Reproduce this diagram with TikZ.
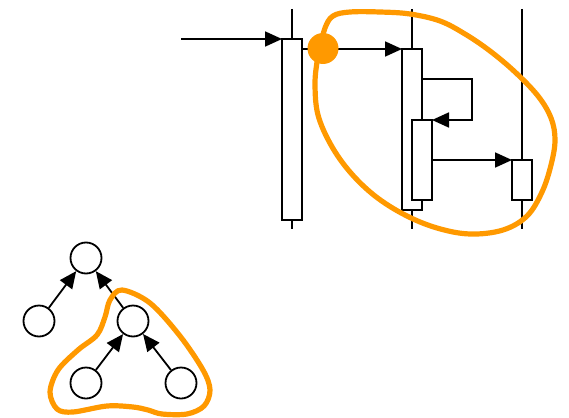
\documentclass[tikz,border=0pt]{standalone}
\usetikzlibrary{arrows.meta}
\definecolor{hl}{RGB}{255,153,0}
\begin{document}
\begin{tikzpicture}[x=1pt,y=-1pt,
  line width=1.8pt,
  actbox/.style={draw,fill=white,inner sep=0pt,outer sep=0pt,minimum width=20pt},
  msg/.style={-{Triangle[length=17pt,width=15pt]}},
  lifeline/.style={draw},
  treenode/.style={circle,draw,fill=white,inner sep=0pt,minimum size=31pt},
  hull/.style={draw=hl,line width=5.2pt,line join=round}]
\useasboundingbox (0,0) rectangle (569,417);

% lifelines
\coordinate (l1t) at (292,9);  \coordinate (l1b) at (292,229);
\coordinate (l2t) at (412,9);  \coordinate (l2b) at (412,229);
\coordinate (l3t) at (522,9);  \coordinate (l3b) at (522,229);
\draw[lifeline] (l1t) -- (l1b);
\draw[lifeline] (l2t) -- (l2b);
\draw[lifeline] (l3t) -- (l3b);

% activation bars
\node[actbox,minimum height=181pt] (A1)  at (292,129.5) {};
\node[actbox,minimum height=161pt] (A2)  at (412,129.5) {};
\node[actbox,minimum height=80pt]  (A2b) at (422,160) {};
\node[actbox,minimum height=40pt]  (A3)  at (522,180) {};

% messages
\coordinate (start) at (181,39);
\draw[msg] (start) -- (A1.north west);
\draw[msg] (A1.east |- A2.north west) -- (A2.north west);
\coordinate (selfout) at (422,79);
\coordinate (selfturn) at (472,79);
\draw[msg] (selfout) -- (selfturn) |- (A2b.north east);
\draw[msg] (A2b.east |- A3.north west) -- (A3.north west);

% highlighted region of the sequence
\draw[hull] plot[smooth cycle,tension=0.6] coordinates {
  (320,48) (325,28) (333,16) (350,12) (380,12) (410,14) (440,21)
  (465,34) (490,51) (515,72) (538,96) (551,118) (555,140) (551,165)
  (542,192) (527,216) (503,230) (470,234) (437,228) (405,215)
  (375,196) (350,172) (331,145) (318,115) (315,85) (317,62)};
\node[circle,fill=hl,inner sep=0pt,minimum size=31pt] (dot) at (323,48.5) {};

% tree
\node[treenode] (T)  at (86,258) {};
\node[treenode] (L)  at (39,321) {};
\node[treenode] (R)  at (133,321) {};
\node[treenode] (RL) at (86,383) {};
\node[treenode] (RR) at (181,383) {};
\draw[msg] (L) -- (T);
\draw[msg] (R) -- (T);
\draw[msg] (RL) -- (R);
\draw[msg] (RR) -- (R);

% highlighted subtree
\draw[hull] plot[smooth cycle,tension=0.55] coordinates {
  (122,290) (150,303) (180,336) (203,370) (210,390) (204,406)
  (187,414) (162,414) (148,410) (133,407) (107,406) (73,412)
  (57,409) (50,392) (58,370) (78,350) (97,335) (105,317)
  (110,300)};
\end{tikzpicture}
\end{document}
